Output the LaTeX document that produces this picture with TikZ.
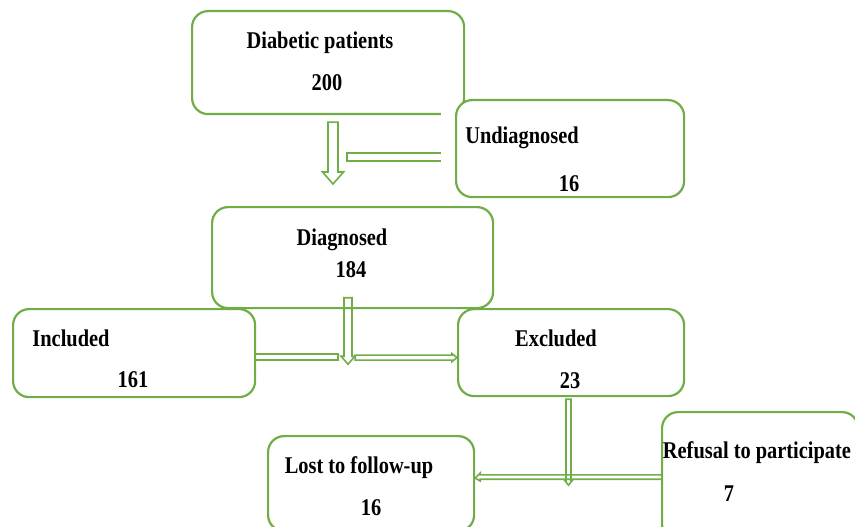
\documentclass[tikz,border=0pt]{standalone}
\usepackage{fontspec}
\setmainfont{Liberation Serif}[FakeStretch=0.85]
\usetikzlibrary{calc}
\definecolor{grn}{RGB}{112,173,71}
\tikzset{
  box/.style={draw=grn, line width=2.2pt, rounded corners=16pt, fill=white, inner sep=0pt},
  lbl/.style={font=\fontsize{24}{28}\selectfont\bfseries, anchor=base, inner sep=0pt},
  barr/.style={draw=grn, line width=1.6pt, line join=miter}
}
\begin{document}
\begin{tikzpicture}[x=1pt,y=-1pt]
\useasboundingbox (0,0) rectangle (855,527);
\clip (0,0) rectangle (855,527);
% boxes
\node[box, minimum width=272pt, minimum height=103pt, anchor=north west] (dia) at (191,10) {};
\fill[white] (441,104) rectangle (456,125);
\node[box, minimum width=228pt, minimum height=97pt, anchor=north west] (und) at (455,99) {};
\node[box, minimum width=281pt, minimum height=101pt, anchor=north west] (dgn) at (211,206) {};
\node[box, minimum width=242pt, minimum height=88pt, anchor=north west] (inc) at (12,308) {};
\node[box, minimum width=226pt, minimum height=87pt, anchor=north west] (exc) at (457,308) {};
\node[box, minimum width=206pt, minimum height=95pt, anchor=north west] (lost) at (267,435) {};
\node[box, minimum width=196pt, minimum height=129pt, anchor=north west] (ref) at (661,411) {};
% connector end points
\coordinate (a1s) at ($(dia.south west)+(142,7)$);
\coordinate (a1e) at ($(dgn.north west)+(122,-22)$);
\coordinate (b1s) at ($(und.west)+(-14,8.5)$);
\coordinate (b1e) at ($(und.west)+(-108,8.5)$);
\coordinate (a2s) at ($(dgn.south west)+(137,-11.5)$);
\coordinate (a2e) at ($(dgn.south west)+(137,55)$);
\coordinate (b2s) at ($(inc.east)+(0,4)$);
\coordinate (b2e) at ($(inc.east)+(82,4)$);
\coordinate (a3s) at ($(b2e)+(17,0.5)$);
\coordinate (a3e) at ($(exc.west)+(0,5)$);
\coordinate (a4s) at ($(exc.south west)+(111.5,2)$);
\coordinate (a4e) at ($(exc.south west)+(111.5,88)$);
\coordinate (a5s) at ($(ref.north west)+(0,66)$);
\coordinate (a5e) at ($(lost.east)+(0,-5.5)$);
% arrow from diabetic to diagnosed
\draw[barr] let \p1=(a1s), \p2=(a1e) in
  (\x1-5,\y1) -- (\x1-5,\y2+12) -- (\x1-10.5,\y2+12) -- (\x2,\y2) -- (\x1+10.5,\y2+12) -- (\x1+5,\y2+12) -- (\x1+5,\y1) -- cycle;
% bar from undiagnosed
\draw[barr] let \p1=(b1s), \p2=(b1e) in
  (\x1,\y1+4) -- (\x2,\y1+4) -- (\x2,\y1-4) -- (\x1,\y1-4);
% arrow from diagnosed down
\draw[barr] let \p1=(a2s), \p2=(a2e) in
  (\x1-4,\y1) -- (\x1-4,\y2+8) -- (\x1-7,\y2+8) -- (\x2,\y2) -- (\x1+7,\y2+8) -- (\x1+4,\y2+8) -- (\x1+4,\y1) -- cycle;
% bar from included
\draw[barr] let \p1=(b2s), \p2=(b2e) in
  (\x1,\y1+3) -- (\x2,\y1+3) -- (\x2,\y1-3) -- (\x1,\y1-3);
% arrow to excluded
\draw[barr] let \p1=(a3s), \p2=(a3e) in
  (\x1,\y1+2.5) -- (\x2-5,\y1+2.5) -- (\x2-5,\y1+4) -- (\x2,\y2) -- (\x2-5,\y1-4) -- (\x2-5,\y1-2.5) -- (\x1,\y1-2.5) -- cycle;
% arrow from excluded down
\draw[barr] let \p1=(a4s), \p2=(a4e) in
  (\x1-2.5,\y1) -- (\x1-2.5,\y2+5) -- (\x1-4,\y2+5) -- (\x2,\y2) -- (\x1+4,\y2+5) -- (\x1+2.5,\y2+5) -- (\x1+2.5,\y1) -- cycle;
% arrow from refusal to lost
\draw[barr] let \p1=(a5s), \p2=(a5e) in
  (\x1,\y1+2.2) -- (\x2+5,\y1+2.2) -- (\x2+5,\y1+4) -- (\x2,\y2) -- (\x2+5,\y1-4) -- (\x2+5,\y1-2.2) -- (\x1,\y1-2.2);
% labels
\node[lbl] (t1) at (320,49) {Diabetic patients};
\node[lbl] (t2) at (327,91) {200};
\node[lbl] (t3) at (522,143) {Undiagnosed};
\node[lbl] (t4) at (569,191) {16};
\node[lbl] (t5) at (342,245) {Diagnosed};
\node[lbl] (t6) at (351,277) {184};
\node[lbl] (t7) at (71,346) {Included};
\node[lbl] (t8) at (133,387.5) {161};
\node[lbl] (t9) at (556,346) {Excluded};
\node[lbl] (t10) at (570,388) {23};
\node[lbl] (t11) at (359,473) {Lost to follow-up};
\node[lbl] (t12) at (371,515) {16};
\node[lbl] (t13) at (757,458) {Refusal to participate};
\node[lbl] (t14) at (729,501) {7};
\end{tikzpicture}
\end{document}
